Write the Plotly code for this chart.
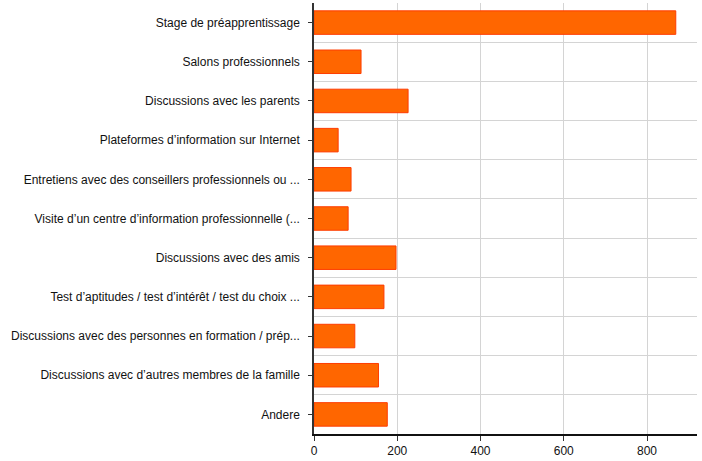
import plotly.graph_objects as go

categories = [
    "Stage de préapprentissage",
    "Salons professionnels",
    "Discussions avec les parents",
    "Plateformes d’information sur Internet",
    "Entretiens avec des conseillers professionnels ou ...",
    "Visite d’un centre d’information professionnelle (...",
    "Discussions avec des amis",
    "Test d’aptitudes / test d’intérêt / test du choix ...",
    "Discussions avec des personnes en formation / prép...",
    "Discussions avec d’autres membres de la famille",
    "Andere",
]
values = [869, 113, 226, 58, 89, 82, 197, 168, 98, 155, 176]
x_ticks = [0, 200, 400, 600, 800]

n = len(categories)
ypos = list(range(n))

fig = go.Figure(
    go.Bar(
        x=values,
        y=ypos,
        orientation="h",
        width=0.6,
        marker=dict(color="#FF6600", line=dict(color="#FF3C00", width=1)),
    )
)

fig.update_layout(
    width=702,
    height=461,
    margin=dict(l=314, r=5, t=3, b=27, autoexpand=False),
    paper_bgcolor="white",
    plot_bgcolor="white",
    font=dict(family="Liberation Sans, Arial, sans-serif", size=12, color="#111"),
    showlegend=False,
)
fig.update_xaxes(
    range=[0, 920],
    tickvals=x_ticks,
    ticktext=[str(v) for v in x_ticks],
    showgrid=True,
    gridcolor="#d4d4d4",
    gridwidth=1,
    zeroline=False,
    showline=True,
    linecolor="#111",
    linewidth=1.5,
    ticks="outside",
    ticklen=5,
    tickcolor="#333",
    tickfont=dict(size=12),
    automargin=False,
)
fig.update_yaxes(
    range=[n - 0.5, -0.5],
    tickvals=ypos,
    ticktext=categories,
    showgrid=False,
    zeroline=False,
    showline=True,
    linecolor="#333",
    linewidth=1.5,
    ticks="outside",
    ticklen=4,
    tickcolor="#333",
    ticklabelstandoff=6,
    automargin=False,
    minor=dict(
        tickvals=[i + 0.5 for i in range(n - 1)],
        showgrid=True,
        gridcolor="#d4d4d4",
        gridwidth=1,
        ticks="",
    ),
)

fig.write_html(
    "out.html",
    config={"displayModeBar": False},
    post_script="document.body.style.margin='0';document.body.style.overflow='hidden';",
)
